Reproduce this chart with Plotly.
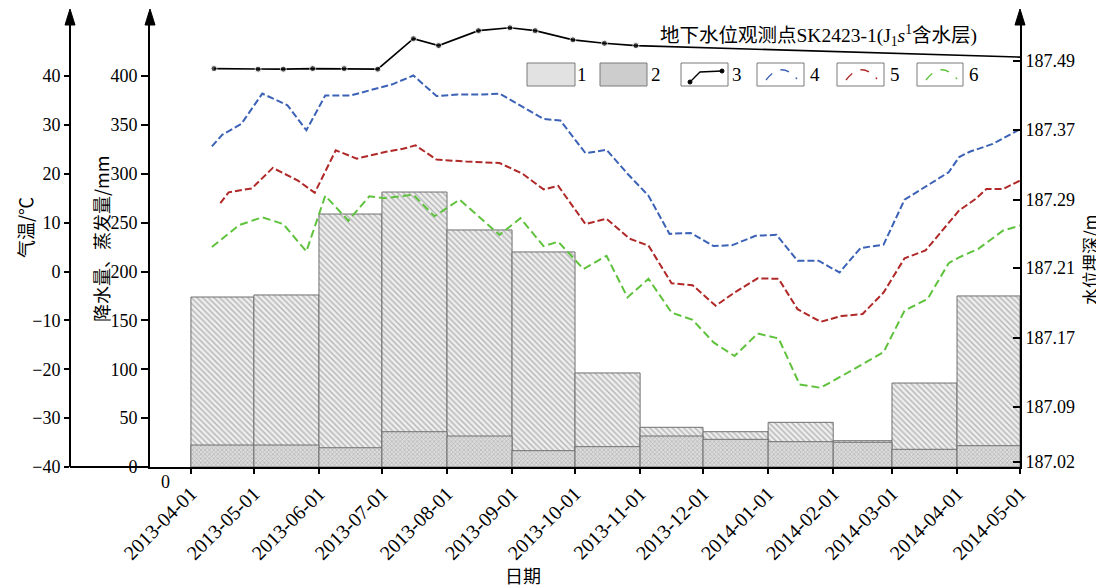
import numpy as np
import pandas as pd
import plotly.graph_objects as go

# ---------------- data ----------------
months = ["2013-04-01", "2013-05-01", "2013-06-01", "2013-07-01", "2013-08-01", "2013-09-01",
          "2013-10-01", "2013-11-01", "2013-12-01", "2014-01-01", "2014-02-01", "2014-03-01",
          "2014-04-01"]
bar1_mm = [173.9, 176.0, 258.8, 281.3, 242.5, 220.0, 96.2, 40.6, 36.1, 45.7, 26.9, 85.9, 175.0]
bar2_mm = [22.5, 22.5, 19.7, 36.1, 31.7, 16.7, 20.8, 31.7, 28.3, 25.9, 25.3, 18.1, 21.8]

tick_dates = ["2013-04-01", "2013-05-01", "2013-06-01", "2013-07-01", "2013-08-01", "2013-09-01",
              "2013-10-01", "2013-11-01", "2013-12-01", "2014-01-01", "2014-02-01", "2014-03-01",
              "2014-04-01", "2014-05-01"]

gw_dates = ["2013-04-12", "2013-05-03", "2013-05-15", "2013-05-29", "2013-06-13", "2013-06-29",
            "2013-07-16", "2013-07-28", "2013-08-16", "2013-08-31", "2013-09-12", "2013-09-30",
            "2013-10-15", "2013-10-30", "2014-05-01"]
gw_depth = [187.477, 187.476, 187.476, 187.477, 187.477, 187.476, 187.529, 187.517, 187.543,
            187.548, 187.543, 187.527, 187.521, 187.517, 187.497]

blue_dates = ["2013-04-11", "2013-04-16", "2013-04-25", "2013-05-05", "2013-05-17", "2013-05-26",
              "2013-06-04", "2013-06-16", "2013-06-28", "2013-07-06", "2013-07-16", "2013-07-27",
              "2013-08-06", "2013-08-18", "2013-08-26", "2013-09-05", "2013-09-16", "2013-09-24",
              "2013-10-06", "2013-10-16", "2013-10-26", "2013-11-05", "2013-11-15", "2013-11-25",
              "2013-12-06", "2013-12-15", "2013-12-26", "2014-01-05", "2014-01-15", "2014-01-25",
              "2014-02-04", "2014-02-14", "2014-02-25", "2014-03-07", "2014-03-18", "2014-03-28",
              "2014-04-02", "2014-04-07", "2014-04-18", "2014-05-01"]
blue_t = [25.6, 28.0, 30.2, 36.4, 34.0, 28.9, 36.0, 36.0, 37.4, 38.3, 40.1, 35.9, 36.2, 36.2,
          36.4, 33.9, 31.2, 30.9, 24.2, 24.9, 20.0, 15.5, 7.7, 7.9, 5.2, 5.4, 7.3, 7.5, 2.2, 2.2,
          -0.2, 4.8, 5.5, 14.7, 17.6, 20.3, 23.4, 24.5, 26.1, 29.1]

red_dates = ["2013-04-15", "2013-04-19", "2013-04-30", "2013-05-10", "2013-05-22", "2013-05-30",
             "2013-06-09", "2013-06-19", "2013-07-03", "2013-07-11", "2013-07-17", "2013-07-27",
             "2013-08-10", "2013-08-26", "2013-09-06", "2013-09-16", "2013-09-23", "2013-10-06",
             "2013-10-16", "2013-10-27", "2013-11-05", "2013-11-16", "2013-11-26", "2013-12-07",
             "2013-12-16", "2013-12-27", "2014-01-06", "2014-01-15", "2014-01-26", "2014-02-05",
             "2014-02-15", "2014-02-25", "2014-03-07", "2014-03-17", "2014-04-02", "2014-04-10",
             "2014-04-15", "2014-04-23", "2014-05-01"]
red_t = [14.0, 16.2, 17.0, 21.2, 18.6, 16.1, 24.8, 23.1, 24.5, 25.1, 25.8, 22.9, 22.5, 22.2,
         20.0, 16.8, 17.5, 9.7, 10.8, 6.7, 5.3, -2.4, -2.8, -7.0, -4.3, -1.4, -1.5, -7.7, -10.3,
         -9.1, -8.7, -4.3, 2.7, 4.3, 12.5, 14.9, 16.9, 16.9, 18.6]

green_dates = ["2013-04-11", "2013-04-24", "2013-05-05", "2013-05-15", "2013-05-26", "2013-06-04",
               "2013-06-15", "2013-06-25", "2013-07-02", "2013-07-16", "2013-07-26", "2013-08-07",
               "2013-08-26", "2013-09-05", "2013-09-16", "2013-09-23", "2013-10-05", "2013-10-16",
               "2013-10-26", "2013-11-05", "2013-11-16", "2013-11-26", "2013-12-06", "2013-12-16",
               "2013-12-27", "2014-01-06", "2014-01-16", "2014-01-26", "2014-02-05", "2014-02-15",
               "2014-02-25", "2014-03-07", "2014-03-18", "2014-03-28", "2014-04-02", "2014-04-11",
               "2014-04-23", "2014-05-01"]
green_t = [5.0, 9.5, 11.1, 9.7, 4.1, 15.5, 10.4, 15.4, 15.0, 15.7, 11.3, 14.7, 7.5, 10.9, 5.2,
           6.1, 0.5, 3.2, -5.3, -1.5, -8.4, -9.9, -14.5, -17.3, -12.7, -13.7, -23.1, -23.8,
           -21.4, -19.0, -16.5, -8.0, -5.6, 1.7, 2.9, 4.6, 8.4, 9.4]

# right-axis (depth) tick labels and their places on that axis (fraction of axis height)
depth_ticks = [187.02, 187.09, 187.17, 187.21, 187.29, 187.37, 187.49]
depth_tick_pos = [0.011, 0.132, 0.284, 0.438, 0.588, 0.742, 0.894]

temp_ticks = list(range(-40, 41, 10))
mm_ticks = list(range(0, 401, 50))


def depth_to_axis(v):
    """piecewise-linear scale of the right axis, with linear extension past its ends"""
    v = np.asarray(v, dtype=float)
    out = np.interp(v, depth_ticks, depth_tick_pos)
    hi = v > depth_ticks[-1]
    slope_hi = (depth_tick_pos[-1] - depth_tick_pos[-2]) / (depth_ticks[-1] - depth_ticks[-2])
    out[hi] = depth_tick_pos[-1] + (v[hi] - depth_ticks[-1]) * slope_hi
    lo = v < depth_ticks[0]
    slope_lo = (depth_tick_pos[1] - depth_tick_pos[0]) / (depth_ticks[1] - depth_ticks[0])
    out[lo] = depth_tick_pos[0] + (v[lo] - depth_ticks[0]) * slope_lo
    return out


# ---------------- layout geometry ----------------
# the page body adds an 8px offset; positions below are given in screen pixels
OFF = 8
W, H = 1104 - OFF, 587 - OFF
PLOT_L, PLOT_R, PLOT_T, PLOT_B = 10, 1020, 13, 467   # screen px of the paper area
ML, MR, MT, MB = PLOT_L - OFF, (W + OFF) - PLOT_R, PLOT_T - OFF, (H + OFF) - PLOT_B
PW, PH = PLOT_R - PLOT_L, PLOT_B - PLOT_T


def fx(px):
    return (px - PLOT_L) / PW


def fy(py):
    return (PLOT_B - py) / PH


SERIF = "Liberation Serif, Times New Roman, Noto Sans CJK SC, serif"
CJK = "Noto Sans CJK SC, Liberation Serif, serif"

m_start = pd.to_datetime(months)
m_next = m_start + pd.offsets.MonthBegin(1)
widths_ms = ((m_next - m_start).days * 86400000).tolist()

fig = go.Figure()

fig.add_trace(go.Bar(
    x=months, y=bar1_mm, width=widths_ms, offset=0, xaxis="x", yaxis="y",
    marker=dict(color="white", line=dict(color="#707070", width=1),
                pattern=dict(shape="\\", fgcolor="#7a7a7a", bgcolor="#eeeeee", size=4, solidity=0.35)),
    name="1"))
fig.add_trace(go.Bar(
    x=months, y=bar2_mm, width=widths_ms, offset=0, xaxis="x", yaxis="y",
    marker=dict(color="white", line=dict(color="#707070", width=1),
                pattern=dict(shape="x", fgcolor="#8a8a8a", bgcolor="#dcdcdc", size=3, solidity=0.4)),
    name="2"))

fig.add_trace(go.Scatter(
    x=gw_dates, y=depth_to_axis(gw_depth), xaxis="x", yaxis="y3", mode="lines+markers",
    line=dict(color="black", width=1.6),
    marker=dict(color="black", size=[6] * (len(gw_dates) - 1) + [0]), name="3"))
fig.add_trace(go.Scatter(
    x=blue_dates, y=blue_t, xaxis="x", yaxis="y2", mode="lines",
    line=dict(color="#3b62b6", width=2, dash="7px,3px"), name="4"))
fig.add_trace(go.Scatter(
    x=red_dates, y=red_t, xaxis="x", yaxis="y2", mode="lines",
    line=dict(color="#b02828", width=2, dash="7px,3px"), name="5"))
fig.add_trace(go.Scatter(
    x=green_dates, y=green_t, xaxis="x", yaxis="y2", mode="lines",
    line=dict(color="#5fc23c", width=2, dash="8px,4px"), name="6"))

# axis ranges from the picture's scale (value 400 / 40 sits at screen y=76)
temp_top = -40 + PH / ((PLOT_B - 76) / 80.0)
mm_top = PH / ((PLOT_B - 76) / 400.0)

axis_common = dict(showline=True, linecolor="black", linewidth=2, showgrid=False, zeroline=False,
                   tickfont=dict(family=SERIF, size=18, color="black"), tickcolor="black")

fig.update_layout(
    width=W, height=H,
    margin=dict(l=ML, r=MR, t=MT, b=MB, autoexpand=False),
    plot_bgcolor="white", paper_bgcolor="white",
    showlegend=False, barmode="overlay",
    xaxis=dict(type="date", domain=[fx(150), 1], range=["2013-03-12 12:00", "2014-05-01"],
               tickvals=tick_dates, ticktext=tick_dates, tickangle=-45,
               ticks="outside", ticklen=5, tickwidth=1.5, anchor="y",
               showline=True, linecolor="black", linewidth=2, showgrid=False, zeroline=False,
               tickfont=dict(family=SERIF, size=20, color="black"), tickcolor="black"),
    yaxis=dict(range=[0, mm_top], tickvals=mm_ticks, ticks="outside", ticklen=7, tickwidth=1.5,
               anchor="x", automargin=False, **axis_common),
    yaxis2=dict(range=[-40, temp_top], tickvals=temp_ticks, ticks="outside", ticklen=5,
                tickwidth=1.5, overlaying="y", anchor="free", position=fx(70), side="left",
                automargin=False, **axis_common),
    yaxis3=dict(range=[0, 1], tickvals=depth_tick_pos, ticktext=[f"{v:.2f}" for v in depth_ticks],
                ticks="inside", ticklen=7, tickwidth=1.5, overlaying="y", anchor="x", side="right",
                automargin=False, **axis_common),
)

shapes = []
# baseline extension between temperature axis and plot area
shapes.append(dict(type="line", xref="paper", yref="paper", x0=fx(70), x1=fx(150), y0=0, y1=0,
                   line=dict(color="black", width=2)))
# arrow heads on the three vertical axes
for ax_x in (70, 150, 1020):
    shapes.append(dict(type="path", xref="paper", yref="paper",
                       path=f"M {fx(ax_x)},{fy(9)} L {fx(ax_x - 5)},{fy(25)} L {fx(ax_x + 5)},{fy(25)} Z",
                       fillcolor="black", line=dict(color="black", width=1)))

# legend boxes
box_y0, box_y1 = 63, 86
legend_boxes = [(527, 575, "#e2e2e2"), (600, 647, "#cdcdcd"), (681, 728, "white"),
                (757, 804, "white"), (837, 884, "white"), (917, 963, "white")]
for bx0, bx1, col in legend_boxes:
    shapes.append(dict(type="rect", xref="paper", yref="paper", x0=fx(bx0), x1=fx(bx1),
                       y0=fy(box_y1), y1=fy(box_y0), fillcolor=col,
                       line=dict(color="#7a7a7a", width=1)))
# sample 3: black line with dots
shapes.append(dict(type="path", xref="paper", yref="paper",
                   path=f"M {fx(690)},{fy(82)} L {fx(700)},{fy(72)} L {fx(722)},{fy(71)}",
                   line=dict(color="black", width=1.3)))
for dx, dy in ((690, 82), (722, 71)):
    shapes.append(dict(type="circle", xref="paper", yref="paper", x0=fx(dx - 2), x1=fx(dx + 2),
                       y0=fy(dy + 2), y1=fy(dy - 2), fillcolor="black", line=dict(color="black", width=1)))
# samples 4-6: dashed arcs
for bx0, col in ((757, "#3b62b6"), (837, "#b02828"), (917, "#5fc23c")):
    shapes.append(dict(type="path", xref="paper", yref="paper",
                       path=(f"M {fx(bx0 + 9)},{fy(80)} Q {fx(bx0 + 24)},{fy(60)} "
                             f"{fx(bx0 + 40)},{fy(79)}"),
                       line=dict(color=col, width=1.3, dash="dash")))

annotations = []
for lx, txt in ((582, "1"), (656, "2"), (737, "3"), (815, "4"), (895, "5"), (974, "6")):
    annotations.append(dict(xref="paper", yref="paper", x=fx(lx), y=fy(75), text=txt,
                            showarrow=False, xanchor="center", yanchor="middle",
                            font=dict(family=SERIF, size=19, color="black")))
annotations.append(dict(xref="paper", yref="paper", x=fx(818), y=fy(35),
                        text="地下水位观测点SK2423-1(J<sub>1</sub><i>s</i><sup>1</sup>含水层)",
                        showarrow=False, xanchor="center", yanchor="middle",
                        font=dict(family=SERIF, size=19.5, color="black")))
annotations.append(dict(xref="paper", yref="paper", x=fx(25), y=fy(228), text="气温/℃",
                        textangle=-90, showarrow=False, xanchor="center", yanchor="middle",
                        font=dict(family=CJK, size=18, color="black")))
annotations.append(dict(xref="paper", yref="paper", x=fx(101), y=fy(239), text="降水量、蒸发量/mm",
                        textangle=-90, showarrow=False, xanchor="center", yanchor="middle",
                        font=dict(family=CJK, size=18, color="black")))
annotations.append(dict(xref="paper", yref="paper", x=fx(1089), y=fy(260), text="水位埋深/m",
                        textangle=-90, showarrow=False, xanchor="center", yanchor="middle",
                        font=dict(family=CJK, size=17, color="black")))
annotations.append(dict(xref="paper", yref="paper", x=fx(523), y=fy(575), text="日期",
                        showarrow=False, xanchor="center", yanchor="middle",
                        font=dict(family=CJK, size=18, color="black")))
annotations.append(dict(xref="paper", yref="paper", x=fx(165), y=fy(482), text="0",
                        showarrow=False, xanchor="center", yanchor="middle",
                        font=dict(family=SERIF, size=18, color="black")))

fig.update_layout(shapes=shapes, annotations=annotations)

fig.write_html("out.html")
